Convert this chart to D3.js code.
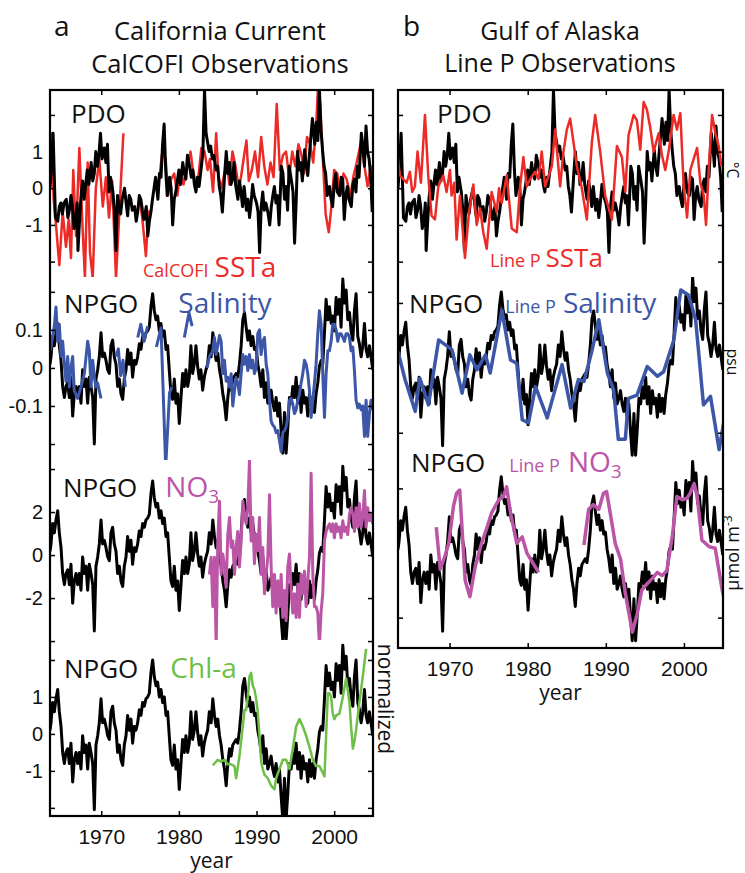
<!DOCTYPE html>
<html>
<head>
<meta charset="utf-8">
<script src="https://cdn.jsdelivr.net/npm/d3@7"></script>
<style>body{margin:0;background:#fff}</style>
</head>
<body>
<div id="chart"></div>
<script>
// shared time axis
var yearDomain = [1963.4, 2005];
var yearTicks = [1970, 1980, 1990, 2000];

// climate indices [year, value]
var pdo = [[1963.4,0.0],[1963.5,0.3],[1963.8,1.5],[1964.1,-0.8],[1964.4,-0.9],[1964.6,-0.5],[1964.8,-0.4],[1965.0,-0.7],[1965.2,-0.4],[1965.5,-0.3],[1965.7,-0.8],[1965.9,-0.6],[1966.1,-0.2],[1966.3,-0.5],[1966.5,-1.1],[1966.7,-0.9],[1966.9,-0.4],[1967.0,-1.7],[1967.2,-0.9],[1967.4,-0.2],[1967.6,0.2],[1967.8,-0.3],[1968.0,0.1],[1968.2,0.5],[1968.4,0.1],[1968.7,0.7],[1968.9,0.2],[1969.1,0.4],[1969.3,1.0],[1969.5,0.6],[1969.7,0.9],[1969.9,1.5],[1970.1,0.8],[1970.4,1.1],[1970.6,0.7],[1970.8,1.2],[1971.0,-0.1],[1971.2,0.3],[1971.5,-0.1],[1971.7,-0.6],[1971.9,-1.7],[1972.1,-0.2],[1972.3,-0.5],[1972.5,-0.7],[1972.7,-0.3],[1973.0,0.0],[1973.2,-0.4],[1973.4,-0.75],[1973.6,-0.2],[1973.8,-0.3],[1974.0,-0.6],[1974.3,-0.5],[1974.5,-0.9],[1974.7,-0.65],[1974.9,-0.2],[1975.1,-0.3],[1975.3,-0.6],[1975.5,-0.85],[1975.8,-0.5],[1976.0,-1.3],[1976.2,-0.9],[1976.4,-0.65],[1976.6,-0.3],[1976.8,0.0],[1977.0,0.3],[1977.3,-0.3],[1977.5,0.4],[1977.7,0.3],[1977.9,1.2],[1978.1,1.75],[1978.3,0.5],[1978.5,-0.2],[1978.8,0.3],[1979.0,0.0],[1979.2,-1.0],[1979.4,-0.3],[1979.6,-0.1],[1979.8,0.2],[1980.0,0.5],[1980.2,0.1],[1980.5,0.7],[1980.7,0.4],[1980.9,0.25],[1981.1,0.9],[1981.3,0.7],[1981.6,0.3],[1981.8,0.5],[1982.0,0.1],[1982.2,-0.1],[1982.4,0.3],[1982.6,0.05],[1982.9,0.6],[1983.1,1.0],[1983.3,2.7],[1983.5,1.5],[1983.7,1.25],[1983.9,1.0],[1984.1,1.15],[1984.3,0.8],[1984.5,0.9],[1984.8,0.5],[1985.0,0.6],[1985.2,0.05],[1985.4,-0.2],[1985.6,-0.65],[1985.9,0.4],[1986.1,1.0],[1986.3,0.4],[1986.5,0.7],[1986.7,0.1],[1986.9,0.25],[1987.1,0.7],[1987.3,0.1],[1987.6,-0.3],[1987.8,0.2],[1988.0,-0.1],[1988.2,-0.5],[1988.4,0.05],[1988.7,-0.6],[1988.9,-0.3],[1989.1,-0.8],[1989.3,-0.4],[1989.5,0.1],[1989.7,-0.2],[1990.0,-0.4],[1990.2,-0.65],[1990.4,-1.75],[1990.6,-0.5],[1990.8,-0.1],[1991.0,-0.6],[1991.2,-0.4],[1991.5,-0.7],[1991.7,-1.0],[1991.9,-0.5],[1992.1,-0.2],[1992.3,0.05],[1992.5,-0.4],[1992.7,-0.2],[1992.9,-1.0],[1993.2,0.6],[1993.4,0.4],[1993.6,-0.3],[1993.8,0.05],[1994.0,-0.6],[1994.2,0.6],[1994.5,0.2],[1994.7,-0.1],[1994.9,-1.5],[1995.1,-0.4],[1995.3,1.0],[1995.5,0.5],[1995.7,0.7],[1995.9,0.2],[1996.2,1.05],[1996.4,0.6],[1996.6,0.35],[1996.8,0.9],[1997.0,1.4],[1997.2,1.9],[1997.5,1.2],[1997.7,1.8],[1997.9,1.3],[1998.1,2.7],[1998.3,1.6],[1998.5,1.05],[1998.7,0.6],[1998.9,0.4],[1999.1,-0.2],[1999.4,0.05],[1999.6,-0.3],[1999.8,-0.5],[2000.0,0.1],[2000.2,0.4],[2000.4,-0.1],[2000.7,-0.2],[2000.9,0.3],[2001.1,0.25],[2001.3,-0.85],[2001.5,-0.2],[2001.7,0.05],[2001.9,-0.3],[2002.2,-0.5],[2002.4,0.1],[2002.6,0.25],[2002.8,-0.1],[2003.0,0.6],[2003.2,0.3],[2003.5,1.5],[2003.7,1.15],[2003.9,0.6],[2004.1,1.7],[2004.3,1.0],[2004.5,0.8],[2004.7,0.3],[2004.9,-0.65]];

var npgo = [[1963.4,0.1],[1963.53,0.3],[1963.74,0.85],[1963.96,0.6],[1964.17,0.95],[1964.39,1.2],[1964.6,0.6],[1964.82,0.2],[1965.03,-0.5],[1965.25,-0.8],[1965.46,-0.5],[1965.68,-0.4],[1965.89,-0.8],[1966.1,-0.25],[1966.32,-1.3],[1966.53,-0.7],[1966.75,-0.5],[1966.96,-0.8],[1967.18,-0.5],[1967.39,-0.95],[1967.6,-0.05],[1967.82,-0.5],[1968.04,-0.3],[1968.25,-0.95],[1968.46,-0.25],[1968.68,-0.5],[1968.9,-0.8],[1969.11,-2.05],[1969.32,-0.3],[1969.54,-0.05],[1969.75,0.3],[1969.97,0.95],[1970.18,0.3],[1970.4,0.4],[1970.61,0.2],[1970.83,-0.05],[1971.04,-0.15],[1971.25,0.6],[1971.47,0.75],[1971.68,0.3],[1971.9,0.1],[1972.11,-0.5],[1972.33,-0.3],[1972.54,-0.7],[1972.76,-0.85],[1972.97,-0.3],[1973.19,-0.05],[1973.4,0.5],[1973.62,0.1],[1973.83,0.4],[1974.04,-0.25],[1974.26,0.2],[1974.47,0.1],[1974.69,0.3],[1974.9,0.65],[1975.12,0.5],[1975.33,0.85],[1975.55,0.75],[1975.76,0.95],[1975.98,1.0],[1976.19,1.1],[1976.4,1.65],[1976.62,2.0],[1976.83,1.55],[1977.05,1.3],[1977.26,1.4],[1977.48,1.0],[1977.69,1.2],[1977.91,0.85],[1978.12,1.0],[1978.34,0.5],[1978.55,0.6],[1978.76,-0.05],[1978.98,-0.7],[1979.19,-0.85],[1979.41,-0.3],[1979.62,-0.95],[1979.84,-0.7],[1980.05,-1.5],[1980.27,-0.8],[1980.48,-0.15],[1980.7,-0.5],[1980.91,-0.05],[1981.13,-0.5],[1981.34,-0.25],[1981.55,0.6],[1981.77,-0.15],[1981.98,0.1],[1982.2,0.6],[1982.41,0.05],[1982.63,-0.3],[1982.84,-0.05],[1983.06,-0.6],[1983.27,-0.25],[1983.49,-0.05],[1983.7,0.1],[1983.92,0.6],[1984.15,0.3],[1984.37,0.95],[1984.58,0.5],[1984.8,0.2],[1985.01,0.4],[1985.23,-0.05],[1985.44,-0.3],[1985.66,-0.7],[1985.87,-0.95],[1986.09,-1.4],[1986.3,-0.8],[1986.52,-0.4],[1986.73,-0.6],[1986.94,-0.3],[1987.37,-0.15],[1987.59,-0.25],[1987.8,0.1],[1988.02,0.6],[1988.23,1.3],[1988.45,1.5],[1988.66,1.1],[1988.88,0.75],[1989.09,1.0],[1989.3,0.6],[1989.52,0.85],[1989.73,0.5],[1989.95,0.55],[1990.16,0.1],[1990.38,-0.15],[1990.59,-0.5],[1990.81,-0.05],[1991.02,-0.8],[1991.24,-0.4],[1991.45,-0.95],[1991.67,-0.8],[1991.88,-0.6],[1992.09,-0.95],[1992.31,-1.15],[1992.52,-0.8],[1992.74,-1.3],[1992.95,-0.95],[1993.17,-1.7],[1993.38,-2.3],[1993.6,-1.2],[1993.81,-2.3],[1994.03,-1.6],[1994.24,-0.8],[1994.46,-0.95],[1994.67,-0.5],[1994.88,-0.8],[1995.1,-0.25],[1995.31,-0.95],[1995.53,-0.5],[1995.74,-1.2],[1995.96,-0.6],[1996.17,-0.95],[1996.39,-0.8],[1996.6,-1.3],[1996.82,-0.7],[1997.03,-1.15],[1997.25,-0.8],[1997.46,-1.2],[1997.67,-0.7],[1997.89,-0.4],[1998.1,0.05],[1998.32,0.2],[1998.53,0.1],[1998.75,0.95],[1998.96,1.85],[1999.18,1.3],[1999.39,1.65],[1999.61,1.2],[1999.82,1.4],[2000.03,1.0],[2000.25,1.9],[2000.46,1.45],[2000.68,1.85],[2000.89,1.1],[2001.11,2.4],[2001.32,1.75],[2001.54,2.1],[2001.75,1.3],[2001.97,1.5],[2002.18,1.0],[2002.4,0.75],[2002.61,1.55],[2002.82,2.0],[2003.04,0.85],[2003.25,0.65],[2003.47,0.3],[2003.68,0.6],[2003.9,1.2],[2004.11,0.5],[2004.32,0.3],[2004.54,0.6],[2004.75,0.3],[2004.97,-0.05]];

// CalCOFI observations (null marks a gap)
var calSST = [[1963.4,0.6],[1963.53,1.5],[1963.87,-0.3],[1964.17,-1.0],[1964.6,-2.1],[1965.03,-0.65],[1965.46,-1.6],[1965.8,-0.85],[1966.1,-1.9],[1966.4,0.5],[1966.75,-1.3],[1967.18,1.1],[1967.6,-1.1],[1967.9,-2.45],[1968.25,0.7],[1968.55,-1.75],[1968.9,-2.45],[1969.3,0.0],[1969.75,0.8],[1970.2,-0.5],[1970.6,0.3],[1971.0,-0.8],[1971.4,0.2],[1971.9,-2.45],[1972.85,1.5],null,
  [1974.9,-0.2],[1975.3,-0.85],[1975.75,-1.85],[1976.1,-0.6],null,
  [1977.5,0.3],[1977.8,0.9],[1978.3,0.8],[1978.6,-0.2],[1979.0,0.25],[1979.4,0.4],[1979.8,-0.2],[1980.2,0.5],[1980.6,0.1],[1981.0,0.5],[1981.5,1.0],[1981.8,0.5],[1982.1,0.2],[1982.5,0.3],[1982.9,1.1],[1983.3,1.0],[1983.7,0.5],[1984.0,0.8],[1984.4,-0.1],[1984.8,1.5],[1985.1,0.3],[1985.5,0.0],[1985.8,0.35],[1986.2,0.7],[1986.5,0.1],[1986.9,1.0],[1987.3,0.6],[1987.7,0.0],[1988.0,0.3],[1988.4,0.9],[1988.7,1.3],[1989.0,0.2],[1989.4,0.5],[1989.8,1.0],[1990.2,0.3],[1990.6,1.4],[1991.0,0.6],[1991.4,0.1],[1991.8,0.7],[1992.2,0.3],[1992.6,2.3],[1993.0,0.5],[1993.4,0.9],[1993.8,1.0],[1994.2,0.3],[1994.6,1.0],[1995.0,0.6],[1995.4,1.2],[1995.8,0.9],[1996.1,0.4],[1996.5,1.4],[1996.9,1.2],[1997.3,0.7],[1997.7,1.8],[1997.9,2.7],[1998.2,2.3],[1998.5,1.0],[1998.9,-0.7],[1999.3,-1.2],[1999.6,-0.6],[2000.0,0.5],[2000.4,0.4],[2000.8,-0.2],[2001.2,0.4],[2001.6,0.25],[2002.1,-0.2],[2002.5,0.35],[2002.9,0.7],[2003.5,1.3],[2003.9,0.6],[2004.3,0.05],[2004.7,0.6],[2004.95,0.3]];

var calSal = [[1963.4,0.045],[1963.53,0.055],[1963.96,0.11],[1964.17,0.16],[1964.39,0.07],[1964.6,0.115],[1964.82,0.03],[1965.03,0.07],[1965.25,0.01],[1965.46,-0.035],[1965.68,0.03],[1965.89,-0.05],[1966.1,0.0],[1966.32,0.03],[1966.53,-0.06],[1966.75,-0.07],[1966.96,-0.08],[1967.39,-0.05],[1967.82,-0.015],[1968.25,0.07],[1968.46,0.045],[1968.68,-0.05],[1968.9,0.02],[1969.11,-0.025],[1969.32,-0.05],[1969.54,-0.04],[1969.75,-0.06],[1969.97,-0.08],null,
  [1971.9,0.03],[1972.2,0.05],[1972.5,-0.02],[1972.8,0.02],[1973.1,-0.05],null,
  [1974.7,0.08],[1975.1,0.115],[1975.5,0.07],[1975.98,0.11],null,
  [1977.1,0.055],[1977.7,0.105],[1978.3,-0.26],[1978.8,-0.065],[1979.1,-0.05],null,
  [1980.7,0.08],[1981.3,0.145],[1981.7,0.11],null,
  [1983.6,0.0],[1983.94,0.03],[1984.37,0.045],[1984.58,0.08],[1984.8,0.035],[1985.23,0.085],[1985.44,0.07],[1985.66,-0.015],[1985.87,0.02],[1986.09,-0.035],[1986.3,-0.025],[1986.52,-0.05],[1986.73,-0.015],[1986.94,-0.1],[1987.16,-0.06],[1987.37,-0.025],[1987.59,-0.04],[1987.8,-0.07],[1988.02,-0.015],[1988.23,0.035],[1988.45,0.01],[1988.66,0.03],[1988.88,-0.007],[1989.09,0.035],[1989.3,0.0],[1989.52,0.02],[1989.73,-0.015],[1989.95,0.0],[1990.16,0.09],[1990.38,0.1],[1990.59,0.035],[1990.81,0.07],[1991.02,0.08],[1991.24,0.01],[1991.45,-0.015],[1991.67,-0.085],[1991.88,-0.14],[1992.09,-0.15],[1992.31,-0.155],[1992.52,-0.17],[1992.74,-0.165],[1992.95,-0.19],[1993.17,-0.22],[1993.38,-0.17],[1993.6,-0.165],[1993.81,-0.155],[1994.03,-0.13],[1994.24,-0.085],[1994.46,-0.08],[1994.67,-0.095],[1994.88,-0.12],[1995.1,-0.11],[1995.31,-0.085],[1995.53,-0.07],[1995.74,-0.04],[1995.96,-0.015],[1996.17,0.02],[1996.39,0.01],[1996.6,-0.015],[1996.82,-0.06],[1997.03,-0.13],[1997.25,-0.085],[1997.46,-0.04],[1997.67,0.01],[1997.89,0.09],[1998.1,0.15],[1998.32,0.115],[1998.53,-0.015],[1998.75,-0.13],[1998.96,-0.015],[1999.18,0.045],[1999.39,0.045],[1999.61,0.07],[1999.82,0.115],[2000.03,0.115],[2000.25,0.1],[2000.46,0.07],[2000.68,0.09],[2000.89,0.09],[2001.11,0.08],[2001.32,0.07],[2001.54,0.09],[2001.75,0.09],[2001.97,0.08],[2002.18,0.045],[2002.4,0.055],[2002.61,-0.007],[2002.82,-0.085],[2003.04,-0.105],[2003.25,-0.095],[2003.47,-0.11],[2003.68,-0.1],[2003.9,-0.18],[2004.11,-0.085],[2004.32,-0.18],[2004.54,-0.12],[2004.75,-0.085],[2004.97,-0.11]];

var calNO3 = [[1983.94,-0.9],[1984.15,-0.1],[1984.37,-2.4],[1984.58,-0.1],[1984.8,-4.2],[1985.01,0.65],[1985.23,2.5],[1985.44,-0.9],[1985.66,0.05],[1985.87,-0.55],[1986.09,-1.5],[1986.3,0.95],[1986.52,1.75],[1986.73,0.35],[1986.94,0.65],[1987.16,-0.9],[1987.37,0.35],[1987.59,1.1],[1987.8,-0.55],[1988.02,0.65],[1988.23,2.5],[1988.45,1.9],[1988.66,1.45],[1988.88,2.2],[1989.09,4.4],[1989.3,0.65],[1989.52,1.75],[1989.73,-0.4],[1989.95,0.95],[1990.16,0.2],[1990.38,1.75],[1990.59,-0.9],[1990.81,0.35],[1991.02,-1.8],[1991.24,-0.9],[1991.45,-0.1],[1991.67,2.8],[1991.88,-0.55],[1992.09,-2.4],[1992.31,-0.9],[1992.52,-2.7],[1992.74,-1.2],[1992.95,-2.4],[1993.17,-0.9],[1993.38,-2.9],[1993.6,-1.65],[1993.81,-3.05],[1994.03,-0.55],[1994.24,0.05],[1994.46,-1.65],[1994.67,-2.7],[1994.88,-1.8],[1995.1,-2.9],[1995.31,-1.35],[1995.53,-2.9],[1995.74,-0.9],[1995.96,-1.8],[1996.17,-0.75],[1996.39,-2.4],[1996.6,-1.2],[1996.82,-0.1],[1997.03,3.8],[1997.25,-0.9],[1997.46,-2.4],[1997.67,-2.4],[1997.89,-2.7],[1998.1,-4.2],[1998.32,-2.6],[1998.53,-1.8],[1998.75,0.65],[1998.96,1.1],[1999.18,1.3],[1999.39,1.45],[1999.61,1.1],[1999.82,1.45],[2000.03,0.8],[2000.25,1.45],[2000.46,1.1],[2000.68,1.3],[2000.89,0.8],[2001.11,1.6],[2001.32,1.1],[2001.54,1.3],[2001.75,0.95],[2001.97,1.9],[2002.18,2.2],[2002.4,1.9],[2002.61,1.1],[2002.82,2.2],[2003.04,1.3],[2003.25,2.4],[2003.47,1.3],[2003.68,1.75],[2003.9,3.0],[2004.11,1.3],[2004.32,2.2],[2004.54,1.6],[2004.75,1.9],[2004.97,1.45]];

var calChl = [[1984.37,-0.85],[1984.58,-0.8],[1985.0,-0.7],[1985.44,-0.75],[1985.87,-0.7],[1986.3,-0.82],[1986.73,-0.82],[1987.16,-0.87],[1987.37,-1.2],[1987.8,-0.6],[1988.23,0.2],[1988.45,0.65],[1988.66,0.65],[1988.88,1.0],[1989.09,1.55],[1989.3,1.65],[1989.52,1.3],[1989.73,1.2],[1989.95,0.95],[1990.16,0.6],[1990.38,-0.05],[1990.59,-0.75],[1990.81,-0.95],[1991.02,-1.1],[1991.45,-1.2],[1991.88,-1.4],[1992.31,-1.5],[1992.52,-1.2],[1992.95,-0.95],[1993.38,-0.7],[1993.81,-0.7],[1994.24,-0.95],[1994.67,-0.4],[1995.1,0.2],[1995.53,0.4],[1995.96,0.2],[1996.39,-0.05],[1996.82,-0.35],[1997.25,-0.7],[1997.67,-0.87],[1998.1,-0.87],[1998.53,-1.05],[1998.75,-1.15],[1998.96,-0.05],[1999.18,1.1],[1999.39,1.1],[1999.61,1.0],[1999.82,0.55],[2000.03,0.4],[2000.25,0.5],[2000.68,0.55],[2001.11,1.0],[2001.54,1.5],[2001.97,0.85],[2002.18,0.2],[2002.4,-0.4],[2002.61,-0.2],[2002.82,0.1],[2003.25,0.85],[2003.68,1.55],[2004.11,2.3]];

// Line P observations
var lpSST = [[1963.34,0.9],[1963.64,0.35],[1964.5,0.15],[1964.92,0.45],[1965.22,-0.1],[1965.56,0.05],[1965.9,1.0],[1966.33,0.15],[1966.85,2.0],[1967.27,0.35],[1967.7,-0.75],[1968.13,-0.85],[1968.56,0.05],[1969.2,0.35],[1969.62,-0.1],[1970.05,0.5],[1970.26,-0.2],[1970.6,0.15],[1970.9,-1.4],[1971.33,-0.2],[1971.97,-1.9],[1972.49,-0.65],[1973.04,0.1],[1973.47,-1.0],[1973.9,-0.55],[1974.32,-1.2],[1974.75,-1.65],[1975.39,-0.1],[1976.03,-0.65],[1976.33,0.0],[1976.68,-0.4],[1977.32,0.35],[1977.96,-1.1],[1978.6,-1.2],[1979.03,0.05],[1979.45,0.85],[1979.88,0.05],[1980.31,0.25],[1980.95,0.45],[1981.38,0.25],[1981.8,1.0],[1982.23,0.05],[1983.09,0.6],[1983.51,1.6],[1984.15,0.05],[1984.58,1.0],[1985.01,1.6],[1985.44,1.9],[1986.29,0.6],[1986.93,0.0],[1987.57,-0.85],[1988.21,1.25],[1988.64,2.0],[1989.28,1.0],[1989.92,-0.2],[1990.78,-0.85],[1991.42,1.15],[1992.06,0.85],[1992.49,-0.1],[1992.91,1.45],[1993.56,2.0],[1993.98,1.85],[1994.41,1.05],[1994.84,2.35],[1995.26,2.15],[1995.69,1.65],[1996.12,1.0],[1996.76,1.5],[1997.19,0.9],[1997.61,0.5],[1998.04,1.0],[1998.68,2.0],[1999.11,1.6],[1999.54,2.05],[1999.97,0.05],[2000.4,-0.8],[2000.82,0.5],[2001.68,1.1],[2002.1,0.15],[2002.53,-0.2],[2002.83,-1.0],[2003.17,0.5],[2003.6,2.0],[2004.03,1.5],[2004.45,1.15],[2004.79,0.6]];

var lpSal = [[1963.4,0.025],[1964.3,-0.018],[1965.6,-0.067],[1966.2,-0.016],[1967.3,-0.057],[1968.6,0.043],[1970.3,0.028],[1971.6,-0.039],[1972.6,0.02],[1973.5,-0.003],[1974.6,0.02],[1975.2,-0.008],[1976.7,0.089],[1977.8,0.012],[1978.6,0.007],[1979.3,-0.08],[1980.1,-0.085],[1981.0,-0.029],[1982.5,-0.077],[1984.4,0.005],[1985.5,-0.062],[1986.5,-0.018],[1987.2,-0.021],[1988.2,0.025],[1989.1,0.074],[1990.2,-0.008],[1991.0,-0.034],[1991.6,-0.11],[1992.5,-0.11],[1992.9,-0.047],[1994.0,-0.042],[1995.3,0.002],[1996.6,-0.013],[1997.4,-0.006],[1998.7,0.043],[1999.6,0.12],[2000.6,0.112],[2001.5,0.074],[2002.5,-0.057],[2003.4,-0.044],[2004.5,-0.126],[2005.3,-0.07]];

var lpNO3 = [[1968.3,0.8],[1968.8,-0.5],[1969.4,-0.1],[1969.9,0.3],[1970.5,1.45],[1970.9,1.85],[1971.3,1.95],[1972.0,-0.85],[1972.6,-1.35],[1973.3,-0.4],[1974.1,0.3],[1974.8,0.8],[1975.4,1.25],[1976.3,1.65],[1976.9,1.75],[1977.3,2.05],[1977.8,1.25],[1978.6,0.3],[1979.3,0.5],[1979.9,0.0],[1981.4,-0.6],null,
  [1987.2,0.25],[1987.8,1.35],[1988.4,1.5],[1989.1,1.35],[1989.7,1.85],[1990.1,1.9],[1990.8,0.9],[1991.2,0.3],[1991.9,-0.2],[1992.5,-1.25],[1993.4,-2.45],[1994.0,-1.9],[1994.6,-1.15],[1995.3,-0.95],[1995.9,-0.8],[1996.6,-0.6],[1997.2,-0.7],[1997.8,-0.55],[1998.5,0.5],[1999.1,1.75],[1999.8,1.65],[2000.4,1.7],[2000.8,1.85],[2001.3,2.15],[2001.7,1.75],[2002.3,0.4],[2003.2,0.2],[2004.0,0.15],[2004.9,-1.15],[2005.1,-1.35]];

var colors = {black: '#000', sst: '#ec2b27', sal: '#3c56a8', no3: '#bb55a6', chl: '#6dbf48'};

var svg = d3.select('#chart').append('svg')
  .attr('width', 745)
  .attr('height', 873)
  .attr('font-family', 'Open Sans');

var clipCount = 0;

function drawPanel(p) {
  var x = d3.scaleLinear().domain(yearDomain).range([p.left, p.right]);

  p.subs.forEach(function (s) {
    var y = d3.scaleLinear().domain(s.domain).range([s.bottom, s.top]);
    var id = 'clip' + (clipCount++);
    svg.append('clipPath').attr('id', id)
      .append('rect')
      .attr('x', p.left).attr('y', s.top)
      .attr('width', p.right - p.left).attr('height', s.bottom - s.top);

    var g = svg.append('g').attr('clip-path', 'url(#' + id + ')');
    var idxLine = d3.line().x(d => x(d[0])).y(d => y(d[1] * s.k));
    var obsLine = d3.line().defined(d => d !== null).x(d => x(d[0])).y(d => y(d[1]));

    var blackPath = function () {
      g.append('path').attr('d', idxLine(s.index))
        .attr('fill', 'none').attr('stroke', colors.black)
        .attr('stroke-width', 3).attr('stroke-linejoin', 'round');
    };
    if (!s.blackOnTop) blackPath();
    g.append('path').attr('d', obsLine(s.obs))
      .attr('fill', 'none').attr('stroke', s.color)
      .attr('stroke-width', s.width).attr('stroke-linejoin', 'round');
    if (s.blackOnTop) blackPath();

    // y ticks inside the box, both sides
    var lab = s.labels || [];
    svg.append('g')
      .attr('transform', 'translate(' + p.left + ',0)')
      .call(d3.axisLeft(y).tickValues(s.ticks).tickSize(-5).tickPadding(7)
        .tickFormat(d => lab.indexOf(d) >= 0 ? String(d) : ''))
      .call(g => g.select('.domain').remove())
      .call(g => g.selectAll('.tick line').attr('stroke-width', 1.5))
      .call(g => g.selectAll('.tick text').attr('font-size', 20).attr('fill', '#111'));
    svg.append('g')
      .attr('transform', 'translate(' + p.right + ',0)')
      .call(d3.axisRight(y).tickValues(s.ticks).tickSize(-5).tickFormat(''))
      .call(g => g.select('.domain').remove())
      .call(g => g.selectAll('.tick line').attr('stroke-width', 1.5));

    // labels inside sub-panel
    s.text.forEach(function (t) {
      var txt = svg.append('text').attr('x', t.x).attr('y', t.y);
      t.parts.forEach(function (q) {
        var ts = txt.append('tspan').text(q.s)
          .attr('font-size', q.size).attr('fill', q.color);
        if (q.dx) ts.attr('dx', q.dx);
        if (q.dy) ts.attr('dy', q.dy);
      });
    });
  });

  var top = p.subs[0].top, bottom = p.subs[p.subs.length - 1].bottom;

  svg.append('g')
    .attr('transform', 'translate(0,' + bottom + ')')
    .call(d3.axisBottom(x).tickValues(yearTicks).tickSize(-5).tickPadding(13).tickFormat(d3.format('d')))
    .call(g => g.select('.domain').remove())
    .call(g => g.selectAll('.tick line').attr('stroke-width', 1.5))
    .call(g => g.selectAll('.tick text').attr('font-size', 21).attr('fill', '#111'));
  svg.append('g')
    .attr('transform', 'translate(0,' + top + ')')
    .call(d3.axisTop(x).tickValues(yearTicks).tickSize(-5).tickFormat(''))
    .call(g => g.select('.domain').remove())
    .call(g => g.selectAll('.tick line').attr('stroke-width', 1.5));

  svg.append('rect')
    .attr('x', p.left).attr('y', top)
    .attr('width', p.right - p.left).attr('height', bottom - top)
    .attr('fill', 'none').attr('stroke', '#000').attr('stroke-width', 2.2);

  svg.append('text').attr('x', (p.left + p.right) / 2).attr('y', bottom + 52)
    .attr('text-anchor', 'middle').attr('font-size', 21).attr('fill', '#111').text('year');

  svg.append('text').attr('x', p.letterX).attr('y', 36).attr('font-size', 28).attr('fill', '#111').text(p.letter);
  p.title.forEach(function (t) {
    svg.append('text').attr('x', t.x).attr('y', t.y).attr('text-anchor', 'middle')
      .attr('font-size', p.titleSize).attr('fill', '#111').text(t.s);
  });
}

function big(s) { return {s: s, size: 26, color: '#111'}; }
function small(s, color, dx) { return {s: s, size: 18, color: color, dx: dx}; }
function col(s, color, dx, size) { return {s: s, size: size || 28, color: color, dx: dx}; }

drawPanel({
  left: 50, right: 373, letter: 'a', letterX: 54, titleSize: 25.5,
  title: [{s: 'California Current', x: 220, y: 40}, {s: 'CalCOFI Observations', x: 220, y: 73}],
  subs: [
    {top: 90, bottom: 277, domain: [-2.42, 2.68], ticks: [-2, -1, 0, 1, 2], labels: [-1, 0, 1],
     index: pdo, k: 1, obs: calSST, color: colors.sst, width: 2.5, blackOnTop: true,
     text: [{x: 71, y: 123, parts: [big('PDO')]},
            {x: 143, y: 277, parts: [small('CalCOFI', colors.sst), col('SSTa', colors.sst, 6)]}]},
    {top: 277, bottom: 460, domain: [-0.242, 0.239], ticks: [-0.2, -0.1, 0, 0.1, 0.2], labels: [-0.1, 0, 0.1],
     index: npgo, k: 0.0974, obs: calSal, color: colors.sal, width: 3,
     text: [{x: 64, y: 313, parts: [big('NPGO'), col('Salinity', colors.sal, 40)]}]},
    {top: 460, bottom: 640, domain: [-3.95, 4.42], ticks: [-4, -2, 0, 2, 4], labels: [-2, 0, 2],
     index: npgo, k: 1.72, obs: calNO3, color: colors.no3, width: 3,
     text: [{x: 63, y: 497, parts: [big('NPGO'), col('NO', colors.no3, 28),
                                    {s: '3', size: 19, color: colors.no3, dy: 6}]}]},
    {top: 640, bottom: 816, domain: [-2.22, 2.54], ticks: [-2, -1, 0, 1, 2], labels: [-1, 0, 1],
     index: npgo, k: 1, obs: calChl, color: colors.chl, width: 2.5,
     text: [{x: 64, y: 678, parts: [big('NPGO'), col('Chl-a', colors.chl, 32)]}]}
  ]
});

drawPanel({
  left: 398, right: 723, letter: 'b', letterX: 403, titleSize: 25,
  title: [{s: 'Gulf of Alaska', x: 560, y: 40}, {s: 'Line P Observations', x: 560, y: 72}],
  subs: [
    {top: 90, bottom: 277, domain: [-2.42, 2.68], ticks: [-2, -1, 0, 1, 2],
     index: pdo, k: 1, obs: lpSST, color: colors.sst, width: 2.5,
     text: [{x: 437, y: 123, parts: [big('PDO')]},
            {x: 490, y: 267, parts: [small('Line P', colors.sst), col('SSTa', colors.sst, 5, 26)]}]},
    {top: 277, bottom: 460, domain: [-0.142, 0.14], ticks: [-0.1, 0.1],
     index: npgo, k: 0.0585, obs: lpSal, color: colors.sal, width: 3.5,
     text: [{x: 409, y: 313, parts: [big('NPGO'), small('Line P', colors.sal, 22), col('Salinity', colors.sal, 7)]}]},
    {top: 460, bottom: 648, domain: [-2.94, 2.88], ticks: [-2, 2],
     index: npgo, k: 1.18, obs: lpNO3, color: colors.no3, width: 3.5,
     text: [{x: 411, y: 472, parts: [big('NPGO'), small('Line P', colors.no3, 24),
                                     col('NO', colors.no3, 8),
                                     {s: '3', size: 19, color: colors.no3, dy: 6}]}]}
  ]
});

// unit labels on the right
var units = [
  {s: '°C', x: 727, y: 170, rot: 90, size: 15.5},
  {s: 'psu', x: 727, y: 362, rot: 90, size: 15.5},
  {s: 'normalized', x: 378, y: 699, rot: 90, size: 21}
];
units.forEach(function (u) {
  svg.append('text')
    .attr('transform', 'translate(' + u.x + ',' + u.y + ') rotate(' + u.rot + ')')
    .attr('text-anchor', 'middle').attr('font-size', u.size).attr('fill', '#111').text(u.s);
});
var umol = svg.append('text')
  .attr('transform', 'translate(739,553) rotate(-90)')
  .attr('text-anchor', 'middle').attr('font-size', 18).attr('fill', '#111');
umol.append('tspan').text('\u03bcmol m');
umol.append('tspan').attr('font-size', 12).attr('dy', -7).text('-3');
</script>
</body>
</html>
